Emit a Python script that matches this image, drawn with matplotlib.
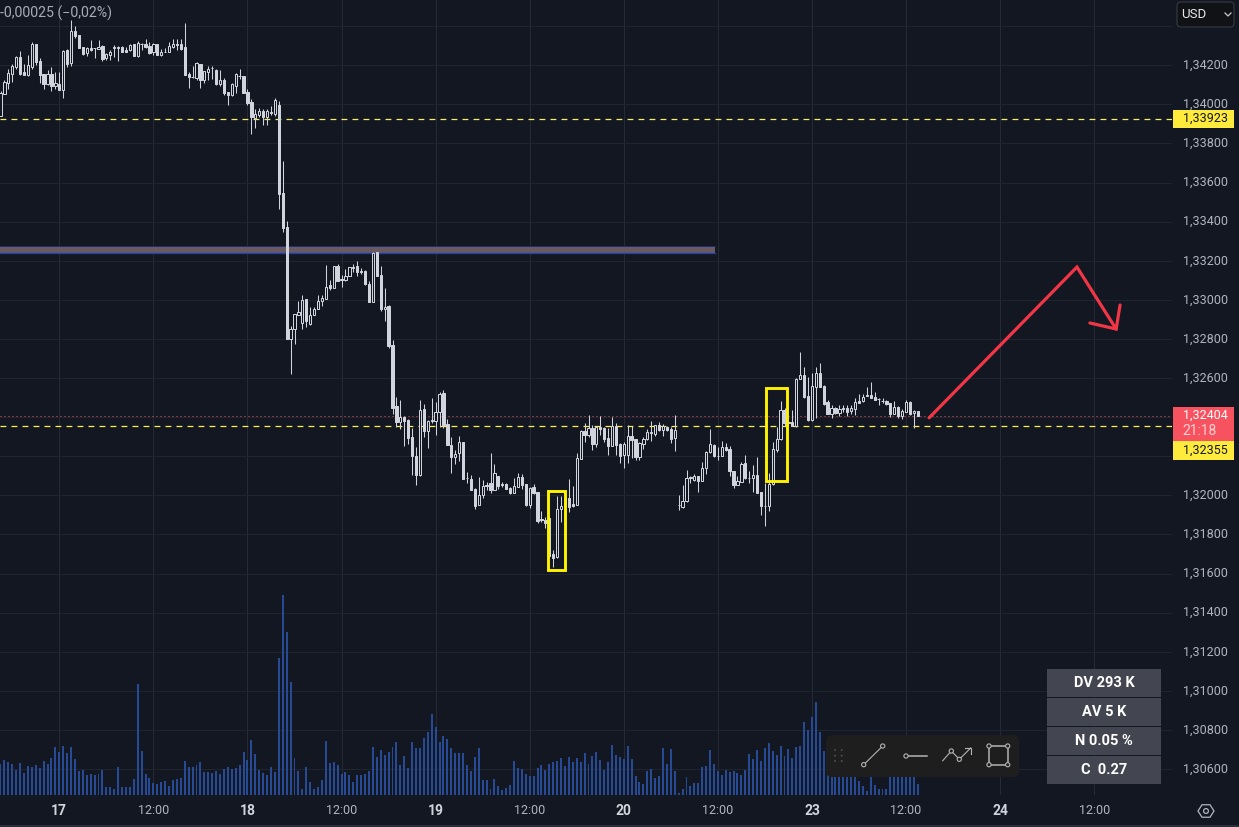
import matplotlib
matplotlib.use('Agg')
import matplotlib.pyplot as plt
from matplotlib.patches import Rectangle, Circle, FancyBboxPatch, Polygon
from matplotlib.transforms import ScaledTranslation
import numpy as np

plt.rcParams['font.family'] = ['Roboto', 'DejaVu Sans']

# 30 minute candles, prices in 1e-5 units
opens = [
    133941,134052,134110,134158,134192,134241,134165,134149,134192,134308,
    134221,134154,134103,134158,134095,134103,134076,134277,134212,134374,
    134354,134293,134264,134291,134286,134284,134298,134236,134253,134291,
    134293,134293,134277,134277,134308,134247,134311,134308,134298,134267,
    134308,134255,134270,134269,134294,134308,134308,134293,134154,134139,
    134137,134209,134124,134168,134187,134177,134102,134124,134061,134047,
    134093,134146,134144,134062,134011,133931,133945,133967,133936,133962,
    133953,133996,133546,133371,132800,132853,132923,132882,133003,132877,
    132923,132953,132994,133004,133074,133061,133172,133105,133102,133122,
    133168,133172,133146,133146,133079,132989,133243,133126,132953,132967,
    132767,132455,132375,132401,132384,132297,132203,132103,132440,132329,
    132384,132380,132426,132522,132363,132256,132196,132215,132273,132090,
    132084,132032,131951,132000,132053,132063,132027,132099,132056,132058,
    132038,132014,132043,132094,132058,131952,132043,132017,131877,131874,
    131882,131700,131683,131928,131985,131988,131956,131952,132188,132329,
    132309,132346,132264,132350,132344,132293,132254,132355,132263,132206,
    132208,132304,132286,132194,132264,132286,132324,132316,132358,132333,
    132350,132338,132295,131952,131942,131969,132092,132080,132100,132075,
    132138,132220,132259,132203,132199,132250,132238,132126,132054,132071,
    132167,132090,132088,132105,132018,131947,131944,132058,132233,132288,
    132438,132373,132377,132353,132597,132617,132508,132385,132557,132627,
    132561,132479,132414,132446,132423,132446,132446,132431,132443,132484,
    132482,132513,132513,132504,132494,132484,132484,132472,132417,132452,
    132407,132429,132479,132421,132431]
highs = [
    134069,134124,134183,134209,134247,134272,134209,134252,134318,134308,
    134235,134154,134175,134189,134166,134166,134277,134281,134434,134400,
    134357,134293,134294,134328,134291,134328,134303,134264,134277,134303,
    134299,134298,134294,134311,134311,134325,134315,134337,134320,134315,
    134311,134281,134286,134320,134332,134332,134332,134414,134166,134195,
    134216,134209,134170,134195,134195,134180,134175,134137,134061,134107,
    134161,134183,134144,134081,134028,133974,133982,133974,133977,133994,
    134035,134015,133709,133402,132868,132929,132993,133023,133003,132962,
    132965,133023,133023,133180,133100,133175,133185,133126,133156,133170,
    133182,133197,133165,133154,133095,133245,133247,133172,133059,132972,
    132793,132502,132486,132406,132392,132343,132246,132486,132466,132384,
    132496,132476,132527,132537,132389,132297,132230,132304,132273,132118,
    132104,132036,132092,132079,132070,132215,132160,132099,132068,132061,
    132044,132089,132113,132109,132058,132044,132058,132017,131922,131888,
    131890,131720,131997,131997,132010,132084,132048,132215,132334,132372,
    132409,132358,132355,132406,132350,132344,132399,132368,132266,132275,
    132360,132355,132286,132273,132300,132338,132382,132360,132373,132363,
    132353,132351,132411,132003,132054,132131,132097,132107,132100,132172,
    132228,132341,132262,132247,132278,132267,132254,132126,132100,132169,
    132208,132123,132157,132196,132018,132063,132114,132274,132349,132484,
    132446,132378,132438,132600,132733,132656,132608,132625,132656,132677,
    132566,132489,132464,132450,132464,132464,132464,132464,132498,132518,
    132520,132557,132578,132527,132498,132498,132489,132472,132484,132455,
    132441,132489,132484,132435,132431]
lows = [
    133941,134052,134081,134115,134183,134149,134148,134144,134183,134200,
    134112,134078,134098,134068,134081,134073,134033,134192,134197,134340,
    134289,134252,134247,134272,134238,134284,134223,134226,134229,134240,
    134223,134269,134269,134272,134247,134243,134277,134289,134260,134252,
    134252,134247,134269,134269,134289,134277,134277,134151,134085,134136,
    134127,134085,134110,134124,134132,134100,134093,134047,133998,134042,
    134059,134129,134059,133996,133851,133878,133933,133894,133894,133948,
    133941,133467,133345,132800,132621,132774,132921,132849,132861,132873,
    132921,132952,132967,133003,133049,133059,133095,133064,133097,133120,
    133141,133120,133131,133074,132989,132987,133122,132941,132890,132754,
    132415,132350,132340,132251,132261,132103,132053,132097,132297,132241,
    132370,132307,132350,132343,132256,132113,132159,132176,132084,132065,
    132027,131930,131949,131985,132027,132014,132027,132032,132041,132031,
    132007,132012,132043,132031,131947,131934,132007,131860,131864,131831,
    131683,131633,131681,131865,131934,131917,131942,131951,132186,132275,
    132297,132232,132249,132309,132275,132206,132252,132206,132167,132142,
    132164,132189,132181,132181,132235,132283,132278,132304,132331,132305,
    132329,132266,132229,131926,131938,131967,132063,132075,132015,132073,
    132111,132216,132196,132179,132199,132228,132100,132039,132051,132070,
    132083,132063,132015,132013,131901,131841,131918,132054,132220,132284,
    132356,132359,132353,132351,132595,132498,132382,132383,132395,132554,
    132464,132417,132397,132417,132407,132429,132407,132417,132412,132474,
    132480,132506,132499,132486,132464,132472,132464,132399,132414,132394,
    132390,132428,132411,132346,132404]
closes = [
    134056,134114,134163,134195,134240,134158,134151,134199,134308,134216,
    134149,134103,134158,134093,134107,134073,134272,134209,134374,134349,
    134289,134260,134287,134277,134289,134294,134231,134257,134270,134296,
    134291,134269,134269,134306,134248,134315,134310,134293,134264,134308,
    134252,134267,134269,134298,134308,134305,134281,134151,134139,134141,
    134211,134127,134170,134180,134185,134103,134124,134059,134047,134102,
    134154,134143,134059,134008,133933,133953,133964,133935,133964,133955,
    134025,133542,133366,132800,132853,132926,132938,133001,132890,132924,
    132955,132996,133008,133068,133061,133172,133097,133102,133120,133166,
    133165,133141,133143,133079,132989,133241,133122,132952,132965,132762,
    132447,132374,132399,132380,132292,132200,132103,132438,132328,132382,
    132382,132428,132517,132358,132256,132195,132213,132271,132084,132087,
    132027,131945,132000,132046,132050,132027,132113,132048,132051,132032,
    132010,132046,132092,132053,131951,132038,132012,131867,131872,131857,
    131691,131681,131928,131944,131942,131942,131945,132189,132329,132310,
    132344,132264,132350,132341,132288,132254,132353,132258,132201,132264,
    132304,132283,132198,132268,132288,132324,132317,132358,132334,132355,
    132336,132290,132333,131949,131971,132088,132088,132100,132075,132140,
    132223,132262,132199,132201,132247,132230,132123,132054,132073,132162,
    132088,132088,132104,132013,131944,131944,132059,132237,132288,132436,
    132371,132370,132353,132595,132614,132503,132387,132559,132625,132557,
    132467,132417,132446,132421,132441,132443,132429,132445,132477,132475,
    132503,132510,132499,132489,132491,132481,132469,132417,132452,132404,
    132431,132477,132414,132431,132404]
volumes = [
    94,106,98,92,74,95,65,86,83,89,
    80,101,92,110,143,128,146,125,143,107,
    71,74,59,62,59,62,74,23,23,17,
    83,23,23,23,47,332,131,62,50,35,
    32,38,41,26,44,47,50,101,83,83,
    89,98,68,68,65,71,62,77,83,77,
    80,89,128,104,164,122,74,65,59,83,
    68,410,599,488,338,110,71,17,83,38,
    17,23,44,161,95,98,89,62,68,59,
    38,59,59,62,71,143,113,134,119,128,
    143,158,89,116,80,158,140,141,171,189,
    243,204,159,177,168,141,126,126,126,90,
    72,114,141,45,45,18,48,27,15,21,
    30,102,81,78,63,57,57,81,90,75,
    93,99,102,111,87,114,99,111,99,126,
    93,117,129,105,75,99,150,120,114,108,
    147,108,57,39,33,72,78,51,57,141,
    93,138,72,6,18,54,27,36,36,84,
    87,135,93,72,60,75,69,72,66,60,
    75,123,108,135,102,141,156,132,120,147,
    117,138,111,144,147,219,195,234,279,189,
    132,60,75,80,70,65,62,60,58,42,
    27,12,54,30,18,18,18,65,60,58,
    62,60,58,55,33]

time_ticks = [15, 39, 63, 87, 111, 135, 159, 183, 207, 231, 255, 279]
time_labels = ['17', '12:00', '18', '12:00', '19', '12:00', '20', '12:00', '23', '12:00', '24', '12:00']
price_ticks = [1.306, 1.308, 1.310, 1.312, 1.314, 1.316, 1.318, 1.320, 1.322, 1.324,
               1.326, 1.328, 1.330, 1.332, 1.334, 1.336, 1.338, 1.340, 1.342, 1.344]
# these levels sit under the price tags or the currency button
unlabelled_ticks = [1.322, 1.324, 1.344]

level_upper = 1.33923
level_lower = 1.32355
last_price = 1.32404

zone_start, zone_end = -1, 182.3
zone_low, zone_high = 1.33242, 1.33278
box_a = (139.6, 143.9, 1.31616, 1.32024)
box_b = (195.4, 200.7, 1.32076, 1.32547)
path_x = [236.9, 274.6, 284.6]
path_y = [1.32397, 1.33168, 1.32851]
head_x = [277.9, 284.6, 285.6]
head_y = [1.32882, 1.32851, 1.32974]

stats = ['DV 293 K', 'AV 5 K', 'N 0.05 %', 'C  0.27']

BG = '#131722'
CANDLE = '#d1d4dc'
AXIS_TXT = '#b2b5be'
YELLOW = '#fff200'
LABEL_YELLOW = '#ffeb3b'
RED = '#f7525f'

o = np.array(opens) / 1e5
h = np.array(highs) / 1e5
l = np.array(lows) / 1e5
c = np.array(closes) / 1e5
idx = np.arange(len(o))
up = c > o
body_lo = np.minimum(o, c)
body_hi = np.maximum(o, c)


def fmt(p):
    return f'{p:.5f}'.replace('.', ',')


W, H = 1239, 827
fig = plt.figure(figsize=(W / 100, H / 100), dpi=100, facecolor=BG)
pos = [0, (H - 795) / H, 1172 / W, 795 / H]
xlim = (-0.1276, 298.85)

ax = fig.add_axes(pos, facecolor=BG, zorder=1)
ax.set_xlim(*xlim)
ax.set_ylim(1.304675, 1.34534)
for s in ax.spines.values():
    s.set_visible(False)
ax.xaxis.grid(True, color='#262a35', lw=0.72)
ax.yaxis.grid(True, color='#20242e', lw=0.72)
ax.set_axisbelow(True)
ax.yaxis.tick_right()
ax.set_yticks(price_ticks)
ax.set_yticklabels(['' if p in unlabelled_ticks else fmt(p) for p in price_ticks])
ax.set_xticks(time_ticks)
ax.set_xticklabels(time_labels)
ax.tick_params(axis='y', length=0, pad=8, labelsize=9, labelcolor=AXIS_TXT)
ax.tick_params(axis='x', length=0, pad=6.5, labelsize=9, labelcolor=AXIS_TXT)
lift = ScaledTranslation(0, 1.5 / 100, fig.dpi_scale_trans)
for lab in ax.get_yticklabels():
    lab.set_transform(lab.get_transform() + lift)
for lab in ax.get_xticklabels():
    if ':' not in lab.get_text():
        lab.set_fontweight('bold')
        lab.set_color(CANDLE)
        lab.set_fontsize(10)

# level zone
ax.add_patch(Rectangle((zone_start, zone_low), zone_end - zone_start, zone_high - zone_low,
                       facecolor='#6a5a60', edgecolor='none', zorder=2))
ax.plot([zone_start, zone_end], [zone_high, zone_high], color='#1a2f78', lw=0.72, zorder=2.1)
ax.plot([zone_start, zone_end], [zone_low, zone_low], color='#1e40b0', lw=1.0, zorder=2.1)

# price lines
ax.axhline(level_upper, color='#f7ee6a', lw=0.9, dashes=(4.7, 4.1), zorder=2.2)
ax.axhline(level_lower, color='#fff04a', lw=0.9, dashes=(4.7, 4.1), zorder=2.2)
ax.axhline(last_price, color=RED, lw=0.72, dashes=(1, 3), zorder=2.2)

# candles
ax.vlines(idx, l, h, color=CANDLE, lw=0.75, zorder=3)
ax.bar(idx[~up], (body_hi - body_lo)[~up], bottom=body_lo[~up], width=0.58,
       facecolor=CANDLE, edgecolor=CANDLE, linewidth=0.72, zorder=3.1)
ax.bar(idx[up], (body_hi - body_lo)[up], bottom=body_lo[up], width=0.58,
       facecolor=BG, edgecolor=CANDLE, linewidth=0.72, zorder=3.1)

# highlight boxes
for x0, x1, y0, y1 in [box_a, box_b]:
    ax.add_patch(Rectangle((x0, y0), x1 - x0, y1 - y0, fill=False, edgecolor=YELLOW, lw=2.1, zorder=4))

# projected path
ax.plot(path_x, path_y, color='#f23645', lw=2.3, solid_capstyle='round', solid_joinstyle='miter', zorder=4)
ax.plot(head_x, head_y, color='#f23645', lw=2.3, solid_capstyle='round', solid_joinstyle='miter', zorder=4)

# volume pane
vax = fig.add_axes(pos, zorder=2)
vax.patch.set_visible(False)
vax.set_xlim(*xlim)
vax.set_ylim(0, 795 * 3)
vax.axis('off')
vax.bar(idx, volumes, width=0.5, color='#264a94', linewidth=0)

# interface elements, positioned in pixels
ui = fig.add_axes([0, 0, 1, 1], zorder=3)
ui.patch.set_visible(False)
ui.set_xlim(0, W)
ui.set_ylim(H, 0)
ui.axis('off')

ui.text(0, 13, '-0,00025 (\u22120,02%)', color='#a9acb5', fontsize=10.2, va='center', ha='left')

ui.add_patch(FancyBboxPatch((1177, 2), 57, 25, boxstyle='round,pad=0,rounding_size=4',
                            facecolor='#111216', edgecolor='#363a45', lw=0.8))
ui.text(1181, 14.5, 'USD', color='#e8e8e8', fontsize=9.5, va='center', ha='left')
ui.plot([1225, 1228, 1231], [13, 16, 13], color='#c8c8c8', lw=0.9)


def price_label(y0, y1, color, text, txt_color):
    ui.add_patch(Rectangle((1173, y0), 61, y1 - y0, facecolor=color, edgecolor='none'))
    ui.text(1183, (y0 + y1) / 2, text, color=txt_color, fontsize=9, va='center', ha='left')


price_label(110, 127.5, LABEL_YELLOW, fmt(level_upper), '#131722')
ui.add_patch(Rectangle((1173, 407), 61, 34, facecolor=RED, edgecolor='none'))
ui.text(1183, 415.5, fmt(last_price), color='white', fontsize=9, va='center', ha='left')
ui.text(1182, 431, '21:18', color='#ffd0d4', fontsize=10, va='center', ha='left')
price_label(441, 460, LABEL_YELLOW, fmt(level_lower), '#131722')

# stats table
for k, txt in enumerate(stats):
    y0 = 669 + k * 29
    ui.add_patch(Rectangle((1047, y0), 114, 27.7, facecolor='#434651', edgecolor='none'))
    ui.text(1104, y0 + 14, txt, color='white', fontsize=10.5, fontweight='bold', ha='center', va='center')

# drawing toolbar
ui.add_patch(FancyBboxPatch((826, 735), 193, 42, boxstyle='round,pad=0,rounding_size=6',
                            facecolor='#1e1e1e', edgecolor='none'))
for gx in (835, 841.7):
    for gy in (750, 755.7, 761):
        ui.add_patch(Circle((gx, gy), 0.9, facecolor='#55565a', edgecolor='none'))
ICON = '#b4b4b4'


def node(x, y):
    ui.add_patch(Circle((x, y), 2.1, facecolor='#1e1e1e', edgecolor=ICON, lw=0.8, zorder=6))


ui.plot([863.7, 882.7], [764.7, 746], color=ICON, lw=0.8)
node(863.7, 764.7)
node(882.7, 746)
ui.plot([906, 926.7], [756, 756], color=ICON, lw=1.1)
node(906, 756)
ui.plot([942.7, 951.3, 959.3, 970.7], [760.7, 751, 759.3, 748], color=ICON, lw=0.8)
ui.plot([965, 970.7, 970.7], [748, 748, 753.5], color=ICON, lw=0.8)
node(951.3, 751)
node(959.3, 759.3)
ui.add_patch(Rectangle((989, 746), 18.7, 18.7, fill=False, edgecolor=ICON, lw=1.1))
for nx, ny in [(989, 746), (1007.7, 746), (1007.7, 764.7), (989, 764.7)]:
    node(nx, ny)

# settings button
angles = np.deg2rad(np.arange(0, 360, 60))
ui.add_patch(Polygon(np.c_[1206 + 8 * np.cos(angles), 811 + 7.2 * np.sin(angles)], closed=True,
                     fill=False, edgecolor=AXIS_TXT, lw=0.9))
ui.add_patch(Circle((1206, 811), 2.4, fill=False, edgecolor=AXIS_TXT, lw=0.9))

ui.add_patch(Rectangle((0, 825), W, 2, facecolor='#2a2e39', edgecolor='none'))

fig.savefig('out.png', dpi=100, facecolor=BG)
